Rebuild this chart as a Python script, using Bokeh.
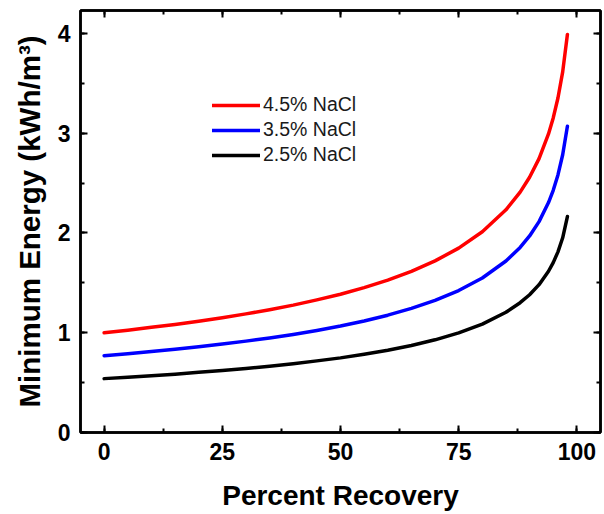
from bokeh.plotting import figure
from bokeh.models import (LinearAxis, SingleIntervalTicker, Legend, LegendItem, Range1d,
                          CustomLabelingPolicy)
from bokeh.embed import file_html
from bokeh.resources import INLINE

# Data
recovery = [0, 5, 10, 15, 20, 25, 30, 35, 40, 45, 50, 55, 60, 65, 70, 75, 80, 85, 88, 90,
            92, 94, 95, 96, 97, 98]
nacl_45 = [1.000, 1.026, 1.054, 1.083, 1.116, 1.151, 1.189, 1.231, 1.277, 1.329, 1.386, 1.452,
           1.527, 1.615, 1.720, 1.848, 2.012, 2.232, 2.410, 2.558, 2.745, 2.993, 3.153, 3.353,
           3.615, 3.990]
nacl_35 = [0.770, 0.790, 0.812, 0.834, 0.859, 0.886, 0.916, 0.948, 0.983, 1.023, 1.067, 1.118,
           1.176, 1.244, 1.324, 1.423, 1.549, 1.719, 1.855, 1.970, 2.114, 2.305, 2.428, 2.582,
           2.784, 3.070]
nacl_25 = [0.540, 0.554, 0.569, 0.585, 0.603, 0.622, 0.642, 0.665, 0.690, 0.718, 0.748, 0.784,
           0.825, 0.872, 0.929, 0.998, 1.086, 1.205, 1.301, 1.381, 1.482, 1.616, 1.703, 1.811,
           1.952, 2.165]
series_labels = ["4.5% NaCl", "3.5% NaCl", "2.5% NaCl"]
series_colors = ["#ff0000", "#0000ff", "#000000"]
x_ticks_interval = 25
y_ticks_interval = 1

FONT = "Liberation Sans"

p = figure(width=604, height=514, output_backend="svg", toolbar_location=None,
           x_range=Range1d(-5, 105), y_range=Range1d(0, 4.23),
           min_border_left=80, min_border_right=2, min_border_top=10, min_border_bottom=82,
           x_axis_label="Percent Recovery", y_axis_label="Minimum Energy (kWh/m³)")
p.grid.visible = False
p.outline_line_color = "black"
p.outline_line_width = 2.5
p.background_fill_color = "white"
p.border_fill_color = "white"

renderers = []
for ys, col in zip([nacl_45, nacl_35, nacl_25], series_colors):
    r = p.line(recovery, ys, line_color=col, line_width=3.5, line_join="round", line_cap="round")
    renderers.append(r)

def style_axis(ax, ticker, labels=True):
    ax.ticker = ticker
    ax.axis_line_width = 2.5
    ax.axis_line_color = "black"
    ax.major_tick_in = 7
    ax.major_tick_out = 0
    ax.minor_tick_in = 4
    ax.minor_tick_out = 0
    ax.major_tick_line_width = 2
    ax.minor_tick_line_width = 2
    ax.major_tick_line_color = "black"
    ax.minor_tick_line_color = "black"
    if labels:
        ax.major_label_text_font = FONT
        ax.major_label_text_font_style = "bold"
        ax.major_label_text_font_size = "23px"
        ax.major_label_text_color = "black"
        ax.axis_label_text_font = FONT
        ax.axis_label_text_font_style = "bold"
        ax.axis_label_text_color = "black"
    else:
        ax.major_label_policy = CustomLabelingPolicy(
            code="const a = Array.from(indices); for (const i of a) { indices.unset(i) } return indices")
        ax.major_label_text_font_size = "1px"
        ax.major_label_standoff = 0
        ax.axis_label = None

xt = lambda: SingleIntervalTicker(interval=x_ticks_interval, num_minor_ticks=2)
yt = lambda: SingleIntervalTicker(interval=y_ticks_interval, num_minor_ticks=2)

style_axis(p.xaxis[0], xt())
style_axis(p.yaxis[0], yt())
p.xaxis[0].axis_label_text_font_size = "28px"
p.yaxis[0].axis_label_text_font_size = "29.5px"
p.xaxis[0].major_label_standoff = 10
p.xaxis[0].axis_label_standoff = 17
p.yaxis[0].major_label_standoff = 10
p.yaxis[0].axis_label_standoff = 9

top = LinearAxis()
style_axis(top, xt(), labels=False)
p.add_layout(top, "above")
right = LinearAxis()
style_axis(right, yt(), labels=False)
p.add_layout(right, "right")

legend = Legend(items=[LegendItem(label=l, renderers=[r]) for l, r in zip(series_labels, renderers)],
                location=(132, 266), orientation="vertical")
legend.background_fill_alpha = 0
legend.border_line_alpha = 0
legend.padding = 0
legend.margin = 0
legend.spacing = 2
legend.glyph_width = 48
legend.glyph_height = 20
legend.label_height = 20
legend.label_standoff = 3
legend.label_text_font = FONT
legend.label_text_font_size = "19.5px"
legend.label_text_color = "#1a1a1a"
p.add_layout(legend, "center")

open("out.html", "w").write(file_html(p, INLINE))
